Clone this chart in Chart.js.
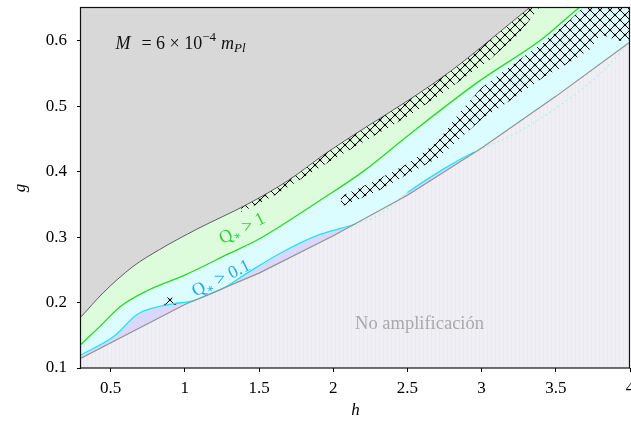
<!DOCTYPE html>
<html>
<head>
<meta charset="utf-8">
<script src="https://cdn.jsdelivr.net/npm/chart.js@4.4.1/dist/chart.umd.min.js"></script>
<style>
  html, body { margin: 0; padding: 0; background: #fff; }
</style>
</head>
<body>
<canvas id="chart" width="631" height="423"></canvas>
<script>
// axis ticks
const xTicks = [0.5, 1, 1.5, 2, 2.5, 3, 3.5, 4];
const yTicks = [0.1, 0.2, 0.3, 0.4, 0.5, 0.6];

// upper edge of the allowed region (grey above)
const upperH = [0.3, 0.45, 0.65, 0.83, 1.08, 1.42, 1.7, 1.95, 2.2, 2.52, 2.8, 3.05, 3.2, 3.32, 3.6];
const upperG = [0.178, 0.215, 0.255, 0.281, 0.312, 0.35, 0.387, 0.428, 0.465, 0.511, 0.555, 0.6, 0.628, 0.65, 0.7];

// Q* = 1 contour
const q1H = [0.3, 0.43, 0.566, 0.745, 1.0, 1.3, 1.5, 1.91, 2.2, 2.52, 2.97, 3.41, 3.66, 3.9];
const q1G = [0.136, 0.164, 0.194, 0.218, 0.242, 0.275, 0.297, 0.356, 0.4, 0.458, 0.536, 0.603, 0.651, 0.69];

// Q* = 0.1 contour
const q01H = [0.3, 0.52, 0.68, 0.79, 0.92, 1.06, 1.15, 1.26, 1.42, 1.64, 1.91, 2.15, 2.3, 2.5, 2.75, 2.95, 3.2, 3.5, 3.8, 4.0];
const q01G = [0.12, 0.148, 0.182, 0.192, 0.198, 0.203, 0.211, 0.222, 0.245, 0.275, 0.304, 0.32, 0.333, 0.368, 0.405, 0.43, 0.455, 0.497, 0.55, 0.598];

// lower edge: no amplification below
const lowerH = [0.3, 1.0, 1.5, 2.0, 2.5, 3.0, 3.5, 4.0];
const lowerG = [0.115, 0.197, 0.245, 0.302, 0.364, 0.436, 0.515, 0.598];

// hatched strips
const hatch1H = [1.38, 1.6, 1.95, 2.2, 2.52, 2.8, 3.05, 3.25, 3.42];
const hatch1Low = [0.338, 0.363, 0.412, 0.445, 0.487, 0.53, 0.57, 0.61, 0.66];

const hatch2H = [2.05, 2.3, 2.5, 2.7, 2.85, 3.0, 3.2, 3.41, 3.6, 3.73, 3.8, 3.92, 4.0];
const hatch2Low = [0.346, 0.37, 0.396, 0.42, 0.45, 0.48, 0.51, 0.543, 0.568, 0.587, 0.61, 0.6, 0.6];
const hatch2Up = [0.362, 0.388, 0.412, 0.445, 0.49, 0.528, 0.562, 0.596, 0.633, 0.66, 0.66, 0.66, 0.66];

const hatch3H = [0.86, 0.95];
const hatch3Low = [0.195, 0.197];
const hatch3Up = [0.208, 0.207];

const pts = (xs, ys) => xs.map((v, i) => ({ x: v, y: ys[i] }));

function lerp(xs, ys, v) {
  for (let i = 1; i < xs.length; i++) {
    if (v <= xs[i]) {
      const t = (v - xs[i - 1]) / (xs[i] - xs[i - 1]);
      return ys[i - 1] + t * (ys[i] - ys[i - 1]);
    }
  }
  return ys[ys.length - 1];
}

function hatchPattern() {
  const c = document.createElement('canvas');
  c.width = 10; c.height = 10;
  const g = c.getContext('2d');
  g.strokeStyle = '#000';
  g.lineWidth = 1;
  g.beginPath();
  g.moveTo(0, 0); g.lineTo(10, 10);
  g.moveTo(10, 0); g.lineTo(0, 10);
  g.stroke();
  g.fillStyle = '#000';
  [[5, 5], [0, 0], [10, 0], [0, 10], [10, 10]].forEach(([a, b]) => {
    g.beginPath(); g.arc(a, b, 1.3, 0, Math.PI * 2); g.fill();
  });
  return g.createPattern(c, 'repeat');
}

function stripePattern(base, line) {
  const c = document.createElement('canvas');
  c.width = 4; c.height = 1;
  const g = c.getContext('2d');
  g.fillStyle = base; g.fillRect(0, 0, 4, 1);
  g.fillStyle = line; g.fillRect(3, 0, 1, 1);
  return g.createPattern(c, 'repeat');
}

const hatch = hatchPattern();

// cyan contour fades where it runs under the no-amplification region
const underLower = ctx => {
  const mx = (ctx.p0.parsed.x + ctx.p1.parsed.x) / 2;
  const my = (ctx.p0.parsed.y + ctx.p1.parsed.y) / 2;
  return my < lerp(lowerH, lowerG, mx) - 0.001;
};

const base = { pointRadius: 0, borderWidth: 0, borderColor: 'transparent', clip: 0 };

const datasets = [
  // 0 no amplification
  { ...base, data: pts(lowerH, lowerG), fill: 'start', backgroundColor: stripePattern('#f0eff3', '#e9e9ef'),
    borderWidth: 1.2, borderColor: '#939393' },
  // 1 hatch along upper edge
  { ...base, data: pts(hatch1H, hatch1Low), fill: 6, backgroundColor: hatch },
  // 2-3 hatch inside Q* band
  { ...base, data: pts(hatch2H, hatch2Low), fill: 3, backgroundColor: hatch },
  { ...base, data: pts(hatch2H, hatch2Up), fill: false },
  // 4-5 small hatch patch
  { ...base, data: pts(hatch3H, hatch3Low), fill: 5, backgroundColor: hatch },
  { ...base, data: pts(hatch3H, hatch3Up), fill: false },
  // 6 upper edge
  { ...base, data: pts(upperH, upperG), fill: 'end', backgroundColor: '#d8d8d8',
    borderWidth: 0.8, borderColor: '#3a3a3a', cubicInterpolationMode: 'monotone' },
  // 7 Q* > 1
  { ...base, data: pts(q1H, q1G), fill: 'end', backgroundColor: '#dcfcdc',
    borderWidth: 1.3, borderColor: '#22dd22', cubicInterpolationMode: 'monotone' },
  // 8 Q* > 0.1 band
  { ...base, data: pts(q01H, q01G), fill: 'end', backgroundColor: '#dcfdff',
    cubicInterpolationMode: 'monotone' },
  // 9 lavender between Q* = 0.1 and lower edge
  { ...base, data: pts(lowerH, lowerG), fill: 'end', backgroundColor: '#d9d8fb' },
  // 10 Q* = 0.1 contour line
  { ...base, data: pts(q01H, q01G), fill: false,
    borderWidth: 1.3, borderColor: '#19e6ff', cubicInterpolationMode: 'monotone',
    segment: {
      borderColor: ctx => underLower(ctx) ? 'rgba(150,235,245,0.6)' : undefined,
      borderDash: ctx => underLower(ctx) ? [2, 3] : undefined
    } }
];

const serif = "'Liberation Serif', 'DejaVu Serif', serif";

function drawRun(ctx, pieces, x0, y0, angle) {
  ctx.save();
  ctx.translate(x0, y0);
  ctx.rotate(angle);
  ctx.textBaseline = 'alphabetic';
  ctx.textAlign = 'left';
  let cx = 0;
  pieces.forEach(p => {
    ctx.font = p.font;
    ctx.fillStyle = p.color;
    cx += p.gap || 0;
    ctx.fillText(p.text, cx, p.dy || 0);
    cx += ctx.measureText(p.text).width;
  });
  ctx.restore();
}

const annotations = {
  id: 'annotations',
  afterDatasetsDraw(chart) {
    const { ctx, chartArea: a, scales: { x, y } } = chart;

    ctx.save();
    ctx.strokeStyle = '#111';
    ctx.lineWidth = 1.2;
    ctx.strokeRect(Math.round(a.left) - 0.5, Math.round(a.top) - 0.5,
      Math.round(a.right - a.left), Math.round(a.bottom - a.top) + 0.5);
    ctx.restore();

    const f = (sz, it) => (it ? 'italic ' : '') + sz + 'px ' + serif;

    drawRun(ctx, [
      { text: 'M', font: f(18, true), color: '#111' },
      { text: '= 6 × 10', font: f(18), color: '#111', gap: 11 },
      { text: '−4', font: f(13), color: '#111', dy: -8 },
      { text: 'm', font: f(18, true), color: '#111', gap: 5 },
      { text: 'Pl', font: f(13, true), color: '#111', dy: 3 }
    ], x.getPixelForValue(0.532), y.getPixelForValue(0.587), 0);

    drawRun(ctx, [
      { text: 'Q', font: f(18), color: '#2ed42e' },
      { text: '∗', font: f(12), color: '#2ed42e', dy: 3 },
      { text: ' > 1', font: f(18), color: '#2ed42e' }
    ], x.getPixelForValue(1.254), y.getPixelForValue(0.289), -27 * Math.PI / 180);

    drawRun(ctx, [
      { text: 'Q', font: f(18), color: '#26a9e6' },
      { text: '∗', font: f(12), color: '#26a9e6', dy: 3 },
      { text: ' > 0.1', font: f(18), color: '#26a9e6' }
    ], x.getPixelForValue(1.07), y.getPixelForValue(0.209), -26 * Math.PI / 180);

    drawRun(ctx, [
      { text: 'No amplificación', font: f(18.5), color: '#a9a9a9' }
    ], x.getPixelForValue(2.147), y.getPixelForValue(0.16), 0);
  }
};

new Chart(document.getElementById('chart'), {
  type: 'line',
  data: { datasets },
  options: {
    responsive: false,
    animation: false,
    events: [],
    layout: { padding: { top: 8, right: 1, left: 0, bottom: 0 } },
    plugins: {
      legend: { display: false },
      tooltip: { enabled: false },
      filler: { propagate: false, drawTime: 'beforeDatasetsDraw' }
    },
    scales: {
      x: {
        type: 'linear', min: 0.3, max: 4,
        afterBuildTicks: s => { s.ticks = xTicks.map(v => ({ value: v })); },
        afterFit: s => { s.height = 55; s.paddingLeft = 0; s.paddingRight = 0; },
        ticks: { color: '#000', font: { family: serif, size: 17 }, padding: 6, maxRotation: 0, autoSkip: false,
          callback: v => String(v) },
        grid: { drawOnChartArea: false, drawTicks: true, tickLength: 4, tickColor: '#000', tickWidth: 1 },
        border: { display: false },
        title: { display: true, text: 'h', color: '#000', font: { family: serif, size: 17, style: 'italic' },
          padding: { top: 0, bottom: 2 } }
      },
      y: {
        type: 'linear', min: 0.1, max: 0.65,
        afterBuildTicks: s => { s.ticks = yTicks.map(v => ({ value: v })); },
        afterFit: s => { s.width = 81; s.paddingTop = 0; s.paddingBottom = 0; },
        ticks: { color: '#000', font: { family: serif, size: 17 }, padding: 10,
          callback: v => v.toFixed(1) },
        grid: { drawOnChartArea: false, drawTicks: true, tickLength: 4, tickColor: '#000', tickWidth: 1 },
        border: { display: false },
        title: { display: true, text: 'g', color: '#000', font: { family: serif, size: 17, style: 'italic' },
          padding: { top: 10, bottom: 0 } }
      }
    }
  },
  plugins: [annotations]
});
</script>
</body>
</html>
